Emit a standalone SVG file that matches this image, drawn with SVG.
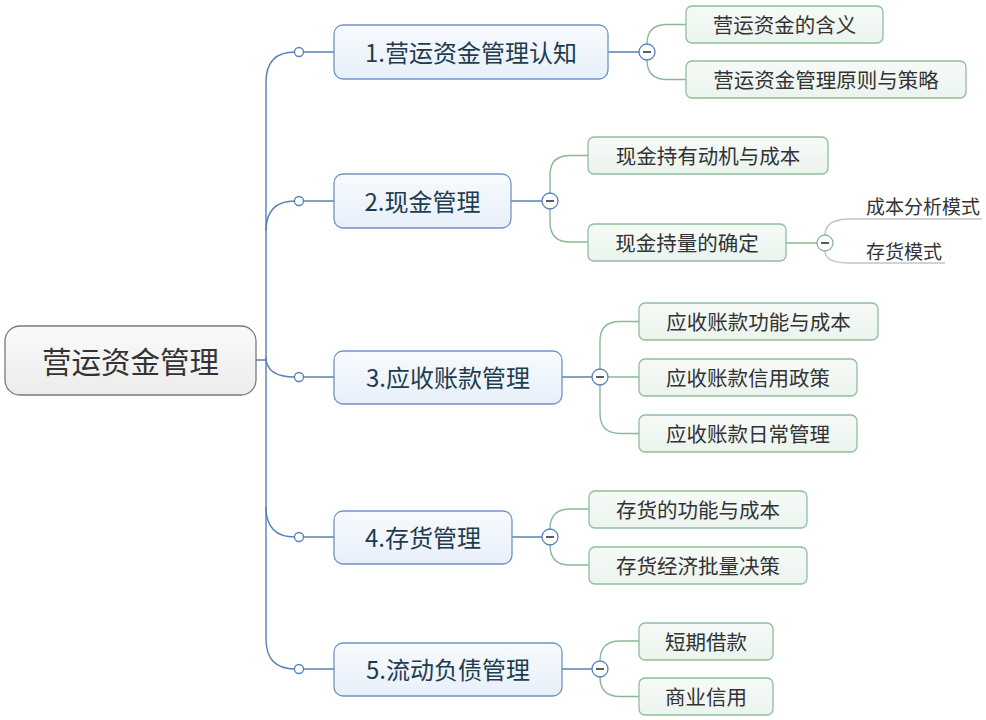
<svg xmlns="http://www.w3.org/2000/svg" width="986" height="720" viewBox="0 0 986 720">
<defs>
<linearGradient id="gRoot" x1="0" y1="0" x2="0" y2="1"><stop offset="0" stop-color="#fafafa"/><stop offset="1" stop-color="#ececec"/></linearGradient>
<linearGradient id="gL1" x1="0" y1="0" x2="0" y2="1"><stop offset="0" stop-color="#f8fbfe"/><stop offset="1" stop-color="#e7eff9"/></linearGradient>
<linearGradient id="gL2" x1="0" y1="0" x2="0" y2="1"><stop offset="0" stop-color="#f6faf7"/><stop offset="1" stop-color="#ebf4ee"/></linearGradient>
</defs>
<style>
text{font-family:"Noto Sans CJK SC","Liberation Sans",sans-serif;text-anchor:middle;dominant-baseline:central}
.root rect{fill:url(#gRoot);stroke:#7a7a7a;stroke-width:1.3}
.root text{font-size:29.5px;fill:#333}
.l1 rect{fill:url(#gL1);stroke:#6f94c6;stroke-width:1.3}
.l1 text{font-size:24px;fill:#1f3c4e}
.l2 rect{fill:url(#gL2);stroke:#8fbd9c;stroke-width:1.3}
.l2 text{font-size:20.5px;fill:#333}
.l3 text{font-size:19px;fill:#333;text-anchor:start}
.blue{fill:none;stroke:#5681b9;stroke-width:1.4}
.green{fill:none;stroke:#8ab996;stroke-width:1.4}
.grey{fill:none;stroke:#c4c4c4;stroke-width:1.4}
.dot{fill:#fff;stroke:#5681b9;stroke-width:1.3}
.col{fill:#fff;stroke:#5681b9;stroke-width:1.3}
.colg{fill:#fff;stroke:#8ab996;stroke-width:1.3}
.minus{stroke:#333;stroke-width:1.6}
</style>
<g id="connectors">
<path class="blue" d="M256,360 L266,360 M266,82 L266,639"/>
<path class="blue" d="M266,82 Q266,52 295,52 M266,231 Q266,201 295,201 M266,357 Q266,377 295,377 M266,507 Q266,537 295,537 M266,639 Q266,669 295,669"/>
<path class="blue" d="M303,52 L334,52 M303,201 L334,201 M303,377 L334,377 M303,537 L334,537 M303,669 L334,669"/>
<path class="blue" d="M608,52 L639,52 M511,201 L542,201 M562,377 L592,377 M512,537 L542,537 M562,669 L592,669"/>
<path class="green" d="M647,44 Q647,24.5 667,24.5 L686,24.5 M647,60 Q647,79.5 667,79.5 L686,79.5"/>
<path class="green" d="M550,193 L550,175 Q550,155.5 570,155.5 L588,155.5 M550,209 L550,222 Q550,242 570,242 L588,242 M786,243 L817,243"/>
<path class="green" d="M600,369 L600,341 Q600,321.5 620,321.5 L639,321.5 M608,377 L639,377 M600,385 L600,413 Q600,433.5 620,433.5 L639,433.5"/>
<path class="green" d="M550,529 Q550,509 570,509 L589,509 M550,545 Q550,565 570,565 L589,565"/>
<path class="green" d="M600,661 Q600,641 620,641 L639,641 M600,677 Q600,696.5 620,696.5 L639,696.5"/>
<path class="grey" d="M825,235 Q825,219 850,219 L982,219 M825,251 Q825,263 850,263 L945,263"/>
<circle class="dot" cx="299" cy="52" r="4.5"/>
<circle class="dot" cx="299" cy="201" r="4.5"/>
<circle class="dot" cx="299" cy="377" r="4.5"/>
<circle class="dot" cx="299" cy="537" r="4.5"/>
<circle class="dot" cx="299" cy="669" r="4.5"/>
<circle class="col" cx="647" cy="52" r="8"/><path class="minus" d="M643,52 L651,52"/>
<circle class="col" cx="550" cy="201" r="8"/><path class="minus" d="M546,201 L554,201"/>
<circle class="col" cx="600" cy="377" r="8"/><path class="minus" d="M596,377 L604,377"/>
<circle class="col" cx="550" cy="537" r="8"/><path class="minus" d="M546,537 L554,537"/>
<circle class="col" cx="600" cy="669" r="8"/><path class="minus" d="M596,669 L604,669"/>
<circle class="colg" cx="825" cy="243" r="8"/><path class="minus" d="M821,243 L829,243"/>
</g>
<g id="root" class="root"><rect x="5" y="326" width="251" height="69" rx="15"/><text x="130.5" y="359.5">营运资金管理</text></g>
<g id="n1" class="l1"><rect x="334" y="25" width="274" height="54" rx="9"/><text x="471" y="51">1.营运资金管理认知</text></g>
<g id="n2" class="l1"><rect x="334" y="174" width="177" height="54" rx="9"/><text x="422.5" y="200">2.现金管理</text></g>
<g id="n3" class="l1"><rect x="334" y="351" width="228" height="53" rx="9"/><text x="448" y="376.5">3.应收账款管理</text></g>
<g id="n4" class="l1"><rect x="334" y="511" width="178" height="53" rx="9"/><text x="423" y="536.5">4.存货管理</text></g>
<g id="n5" class="l1"><rect x="334" y="643" width="228" height="53" rx="9"/><text x="448" y="668.5">5.流动负债管理</text></g>
<g id="n1a" class="l2"><rect x="686" y="6" width="197" height="37" rx="6"/><text x="784.5" y="23.5">营运资金的含义</text></g>
<g id="n1b" class="l2"><rect x="686" y="61" width="280" height="37" rx="6"/><text x="826" y="78.5">营运资金管理原则与策略</text></g>
<g id="n2a" class="l2"><rect x="588" y="137" width="240" height="37" rx="6"/><text x="708" y="154.5">现金持有动机与成本</text></g>
<g id="n2b" class="l2"><rect x="588" y="224" width="198" height="37" rx="6"/><text x="687" y="241.5">现金持量的确定</text></g>
<g id="n2b1" class="l3"><text x="866" y="205">成本分析模式</text></g>
<g id="n2b2" class="l3"><text x="866" y="250">存货模式</text></g>
<g id="n3a" class="l2"><rect x="639" y="303" width="239" height="37" rx="6"/><text x="758.5" y="320.5">应收账款功能与成本</text></g>
<g id="n3b" class="l2"><rect x="639" y="359" width="218" height="37" rx="6"/><text x="748" y="376.5">应收账款信用政策</text></g>
<g id="n3c" class="l2"><rect x="639" y="415" width="218" height="37" rx="6"/><text x="748" y="432.5">应收账款日常管理</text></g>
<g id="n4a" class="l2"><rect x="589" y="491" width="218" height="37" rx="6"/><text x="698" y="508.5">存货的功能与成本</text></g>
<g id="n4b" class="l2"><rect x="589" y="547" width="218" height="37" rx="6"/><text x="698" y="564.5">存货经济批量决策</text></g>
<g id="n5a" class="l2"><rect x="639" y="623" width="134" height="37" rx="6"/><text x="706" y="640.5">短期借款</text></g>
<g id="n5b" class="l2"><rect x="639" y="678" width="134" height="37" rx="6"/><text x="706" y="695.5">商业信用</text></g>
</svg>
